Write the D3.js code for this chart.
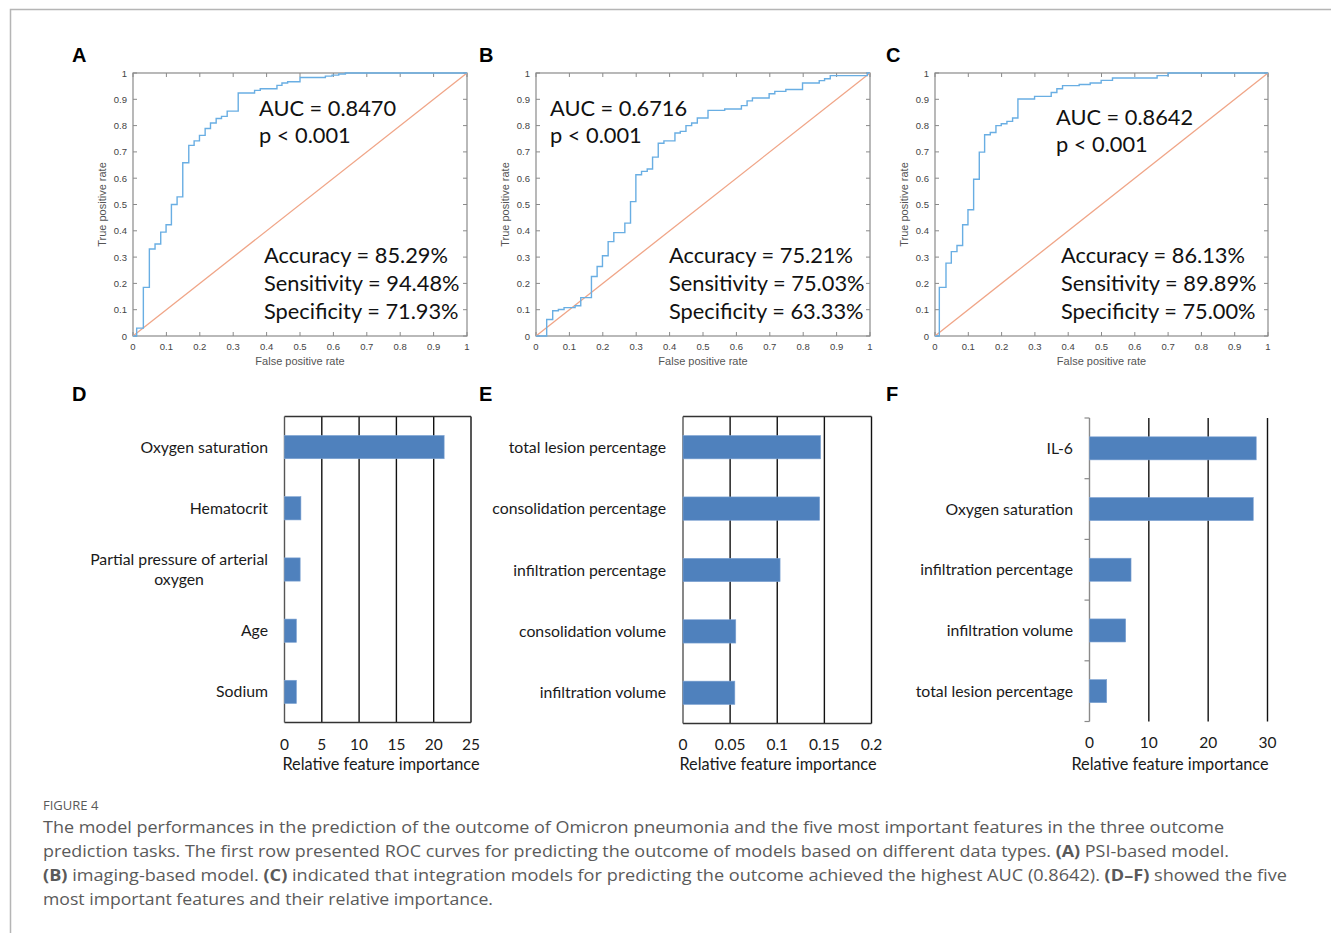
<!DOCTYPE html>
<html>
<head>
<meta charset="utf-8">
<script src="https://cdn.jsdelivr.net/npm/d3@7"></script>
<style>
  body { margin: 0; background: #fff; }
  svg { display: block; }
</style>
</head>
<body>
<div id="chart"></div>
<script>
// ROC curves: step points [false positive rate, true positive rate]
const rocTicks = [0, 0.1, 0.2, 0.3, 0.4, 0.5, 0.6, 0.7, 0.8, 0.9, 1];

const rocA = [[0,0],[0.011,0.03],[0.031,0.185],[0.049,0.331],[0.066,0.35],[0.083,0.395],[0.099,0.423],
  [0.115,0.5],[0.132,0.529],[0.149,0.659],[0.167,0.725],[0.183,0.742],[0.199,0.763],[0.216,0.789],
  [0.232,0.81],[0.249,0.827],[0.265,0.835],[0.282,0.855],[0.315,0.924],[0.364,0.934],[0.381,0.94],
  [0.431,0.953],[0.446,0.962],[0.463,0.967],[0.5,0.983],[0.576,0.988],[0.596,0.992],[0.616,0.996],
  [0.636,1],[1,1]];

const rocB = [[0,0],[0.032,0.063],[0.05,0.096],[0.067,0.101],[0.084,0.108],[0.117,0.115],[0.134,0.146],
  [0.166,0.226],[0.183,0.264],[0.199,0.305],[0.216,0.359],[0.233,0.393],[0.266,0.429],[0.283,0.511],
  [0.299,0.613],[0.316,0.626],[0.333,0.635],[0.349,0.68],[0.366,0.733],[0.383,0.742],[0.416,0.772],
  [0.432,0.778],[0.449,0.8],[0.466,0.81],[0.483,0.829],[0.515,0.858],[0.565,0.863],[0.615,0.876],
  [0.632,0.894],[0.648,0.905],[0.698,0.921],[0.715,0.93],[0.748,0.937],[0.798,0.962],[0.848,0.971],
  [0.864,0.978],[0.881,0.99],[0.992,1],[1,1]];

const rocC = [[0,0],[0.013,0.185],[0.033,0.277],[0.049,0.321],[0.066,0.344],[0.083,0.423],[0.099,0.48],
  [0.116,0.596],[0.133,0.699],[0.149,0.765],[0.166,0.774],[0.183,0.8],[0.199,0.807],[0.216,0.816],
  [0.233,0.829],[0.249,0.901],[0.299,0.911],[0.349,0.926],[0.366,0.94],[0.383,0.952],[0.433,0.956],
  [0.466,0.962],[0.499,0.972],[0.533,0.981],[0.667,0.99],[0.7,1],[1,1]];

const statsA = ["Accuracy = 85.29%", "Sensitivity = 94.48%", "Specificity = 71.93%"];
const statsB = ["Accuracy = 75.21%", "Sensitivity = 75.03%", "Specificity = 63.33%"];
const statsC = ["Accuracy = 86.13%", "Sensitivity = 89.89%", "Specificity = 75.00%"];
const aucLabels = ["AUC = 0.8470", "AUC = 0.6716", "AUC = 0.8642"];

// feature importance
const featD = ["Oxygen saturation", "Hematocrit", "Partial pressure of arterial\noxygen", "Age", "Sodium"];
const impD = [21.4, 2.2, 2.1, 1.6, 1.6];
const ticksD = [0, 5, 10, 15, 20, 25];

const featE = ["total lesion percentage", "consolidation percentage", "infiltration percentage", "consolidation volume", "infiltration volume"];
const impE = [0.146, 0.145, 0.103, 0.056, 0.055];
const ticksE = [0, 0.05, 0.1, 0.15, 0.2];

const featF = ["IL-6", "Oxygen saturation", "infiltration percentage", "infiltration volume", "total lesion percentage"];
const impF = [28.1, 27.6, 7.0, 6.1, 2.9];
const ticksF = [0, 10, 20, 30];

const width = 1331, height = 933;
const svg = d3.select("#chart").append("svg")
  .attr("width", width).attr("height", height);

svg.append("rect").attr("width", width).attr("height", height).attr("fill", "#fff");

// outer frame (top + left rule)
svg.append("path").attr("d", `M10.5,${height} V9.5 H${width}`)
  .attr("fill", "none").attr("stroke", "#b5b5b5").attr("stroke-width", 1.5);

const letterFont = "Liberation Sans, Arial, sans-serif";
const calFont = "Lato, sans-serif";

function panelLetter(x, y, t) {
  svg.append("text").attr("x", x).attr("y", y).text(t)
    .attr("font-family", letterFont).attr("font-weight", "bold").attr("font-size", 20).attr("fill", "#000");
}

function drawRoc(cfg) {
  const x = d3.scaleLinear().domain([0, 1]).range([cfg.x0, cfg.x1]);
  const y = d3.scaleLinear().domain([0, 1]).range([336, 73]);
  const g = svg.append("g");
  const axisColor = "#8a8a8a";

  // ticks on all four sides (inward)
  g.selectAll(".tb").data(rocTicks).join("line")
    .attr("x1", d => x(d)).attr("x2", d => x(d)).attr("y1", y(0)).attr("y2", y(0) - 4)
    .attr("stroke", axisColor);
  g.selectAll(".tt").data(rocTicks).join("line")
    .attr("x1", d => x(d)).attr("x2", d => x(d)).attr("y1", y(1)).attr("y2", y(1) + 4)
    .attr("stroke", axisColor);
  g.selectAll(".tl").data(rocTicks).join("line")
    .attr("x1", x(0)).attr("x2", x(0) + 4).attr("y1", d => y(d)).attr("y2", d => y(d))
    .attr("stroke", axisColor);
  g.selectAll(".tr").data(rocTicks).join("line")
    .attr("x1", x(1)).attr("x2", x(1) - 4).attr("y1", d => y(d)).attr("y2", d => y(d))
    .attr("stroke", axisColor);

  g.append("rect").attr("x", x(0)).attr("y", y(1))
    .attr("width", x(1) - x(0)).attr("height", y(0) - y(1))
    .attr("fill", "none").attr("stroke", axisColor).attr("stroke-width", 1.2);

  const lab = g.append("g").attr("font-family", "Liberation Sans, Arial, sans-serif")
    .attr("font-size", 9.5).attr("fill", "#444");
  lab.selectAll(".xl").data(rocTicks).join("text")
    .attr("x", d => x(d)).attr("y", 350).attr("text-anchor", "middle").text(d => d);
  lab.selectAll(".yl").data(rocTicks).join("text")
    .attr("x", x(0) - 6).attr("y", d => y(d) + 3.5).attr("text-anchor", "end").text(d => d);

  g.append("text").attr("x", (x(0) + x(1)) / 2).attr("y", 365).attr("text-anchor", "middle")
    .attr("font-family", "Liberation Sans, Arial, sans-serif").attr("font-size", 11).attr("fill", "#555")
    .text("False positive rate");
  g.append("text").attr("transform", `translate(${x(0) - 27},${(y(0) + y(1)) / 2}) rotate(-90)`)
    .attr("text-anchor", "middle")
    .attr("font-family", "Liberation Sans, Arial, sans-serif").attr("font-size", 11).attr("fill", "#555")
    .text("True positive rate");

  // chance diagonal
  g.append("line").attr("x1", x(0)).attr("y1", y(0)).attr("x2", x(1)).attr("y2", y(1))
    .attr("stroke", "#f0a587").attr("stroke-width", 1.3);

  const line = d3.line().x(d => x(d[0])).y(d => y(d[1])).curve(d3.curveStepAfter);
  g.append("path").datum(cfg.data).attr("d", line)
    .attr("fill", "none").attr("stroke", "#69aee3").attr("stroke-width", 1.4);

  const ann = g.append("g").attr("font-family", calFont).attr("font-size", 21.8).attr("fill", "#111");
  ann.append("text").attr("x", cfg.aucX).attr("y", cfg.aucY).text(cfg.auc);
  ann.append("text").attr("x", cfg.aucX).attr("y", cfg.aucY + 27).text("p < 0.001");
  ann.selectAll(".st").data(cfg.stats).join("text")
    .attr("x", cfg.statX).attr("y", (d, i) => 262.5 + i * 28).text(d => d);
}

drawRoc({ x0: 133, x1: 467, data: rocA, auc: aucLabels[0], aucX: 259, aucY: 116, stats: statsA, statX: 264 });
drawRoc({ x0: 536, x1: 870, data: rocB, auc: aucLabels[1], aucX: 550, aucY: 116, stats: statsB, statX: 669 });
drawRoc({ x0: 935, x1: 1268, data: rocC, auc: aucLabels[2], aucX: 1056, aucY: 125, stats: statsC, statX: 1061 });

panelLetter(72, 62, "A");
panelLetter(479, 62, "B");
panelLetter(886, 62, "C");

function drawBars(cfg) {
  const x = d3.scaleLinear().domain([0, cfg.max]).range([cfg.x0, cfg.x1]);
  const y = d3.scaleBand().domain(cfg.feats).range([cfg.y0, cfg.y1]).paddingInner(0.62).paddingOuter(0.31);
  const g = svg.append("g");

  g.selectAll(".grid").data(cfg.ticks.slice(1)).join("line")
    .attr("x1", d => x(d)).attr("x2", d => x(d)).attr("y1", cfg.y0).attr("y2", cfg.y1)
    .attr("stroke", "#111").attr("stroke-width", 1.4);

  if (cfg.box) {
    g.append("line").attr("x1", cfg.x0).attr("x2", cfg.x1).attr("y1", cfg.y0).attr("y2", cfg.y0)
      .attr("stroke", "#333").attr("stroke-width", 1.4);
    g.append("line").attr("x1", cfg.x0).attr("x2", cfg.x1).attr("y1", cfg.y1).attr("y2", cfg.y1)
      .attr("stroke", "#333").attr("stroke-width", 1.4);
    g.append("line").attr("x1", cfg.x0).attr("x2", cfg.x0).attr("y1", cfg.y0).attr("y2", cfg.y1)
      .attr("stroke", "#555").attr("stroke-width", 1.4);
  } else {
    g.append("line").attr("x1", cfg.x0).attr("x2", cfg.x0).attr("y1", cfg.y0).attr("y2", cfg.y1)
      .attr("stroke", "#8a8a8a").attr("stroke-width", 1.4);
    const bounds = d3.range(cfg.feats.length + 1).map(i => cfg.y0 + i * y.step());
    g.selectAll(".ytick").data(bounds).join("line")
      .attr("x1", cfg.x0 - 5).attr("x2", cfg.x0).attr("y1", d => d).attr("y2", d => d)
      .attr("stroke", "#8a8a8a").attr("stroke-width", 1.2);
  }

  g.selectAll(".bar").data(cfg.vals).join("rect")
    .attr("x", x(0)).attr("y", (d, i) => y(cfg.feats[i]))
    .attr("width", d => x(d) - x(0)).attr("height", y.bandwidth())
    .attr("fill", "#4f81bd").attr("stroke", "#7ea3d3").attr("stroke-width", 0.6);

  const lab = g.append("g").attr("font-family", calFont).attr("font-size", 15.8).attr("fill", "#1a1a1a");
  cfg.feats.forEach(f => {
    const cy = y(f) + y.bandwidth() / 2;
    const lines = f.split("\n");
    const t = lab.append("text").attr("x", cfg.labelX).attr("text-anchor", "end");
    if (lines.length === 1) {
      t.attr("y", cy + 5.5).text(f);
    } else {
      const ls = lines.map((s, i) => t.append("tspan").attr("x", cfg.labelX)
        .attr("y", cy + 5.5 + (i - (lines.length - 1) / 2) * 20.7).text(s));
      // center the lines against each other, block aligned right
      const w = d3.max(ls, s => s.node().getComputedTextLength());
      t.attr("text-anchor", "middle");
      ls.forEach(s => s.attr("x", cfg.labelX - w / 2));
    }
  });

  lab.selectAll(".xt").data(cfg.ticks).join("text")
    .attr("x", d => x(d)).attr("y", cfg.tickY).attr("text-anchor", "middle")
    .attr("font-size", 15.5).text(d => d);
  lab.append("text").attr("x", cfg.titleX).attr("y", 770).attr("text-anchor", "middle")
    .attr("font-size", 16.3).text("Relative feature importance");
}

drawBars({ feats: featD, vals: impD, ticks: ticksD, max: 25, x0: 284.5, x1: 471, y0: 416.5, y1: 722.5,
  labelX: 268, tickY: 749.5, titleX: 381, box: true });
drawBars({ feats: featE, vals: impE, ticks: ticksE, max: 0.2, x0: 683, x1: 871.5, y0: 416.5, y1: 723.5,
  labelX: 666, tickY: 749.5, titleX: 778, box: true });
drawBars({ feats: featF, vals: impF, ticks: ticksF, max: 30, x0: 1089.5, x1: 1267.5, y0: 418, y1: 721.5,
  labelX: 1073, tickY: 748, titleX: 1170, box: false });

panelLetter(72, 401, "D");
panelLetter(479, 401, "E");
panelLetter(886, 401, "F");

// caption
const cap = svg.append("g").attr("font-family", "Open Sans, sans-serif").attr("fill", "#5a5a5a");
cap.append("text").attr("x", 43).attr("y", 810).attr("font-size", 13).text("FIGURE 4");

const captionLines = [
  [["The model performances in the prediction of the outcome of Omicron pneumonia and the five most important features in the three outcome", false]],
  [["prediction tasks. The first row presented ROC curves for predicting the outcome of models based on different data types. ", false], ["(A)", true], [" PSI-based model.", false]],
  [["(B)", true], [" imaging-based model. ", false], ["(C)", true], [" indicated that integration models for predicting the outcome achieved the highest AUC (0.8642). ", false], ["(D\u2013F)", true], [" showed the five", false]],
  [["most important features and their relative importance.", false]]
];
const captionEnds = [1224, 1229, 1287, 493];

captionLines.forEach((parts, i) => {
  const t = cap.append("text").attr("x", 43).attr("y", 833 + i * 24).attr("font-size", 16.5)
    .attr("xml:space", "preserve");
  parts.forEach(([s, b]) => t.append("tspan").attr("font-weight", b ? "bold" : null).text(s));
  t.attr("textLength", captionEnds[i] - 43).attr("lengthAdjust", "spacingAndGlyphs");
});
</script>
</body>
</html>
